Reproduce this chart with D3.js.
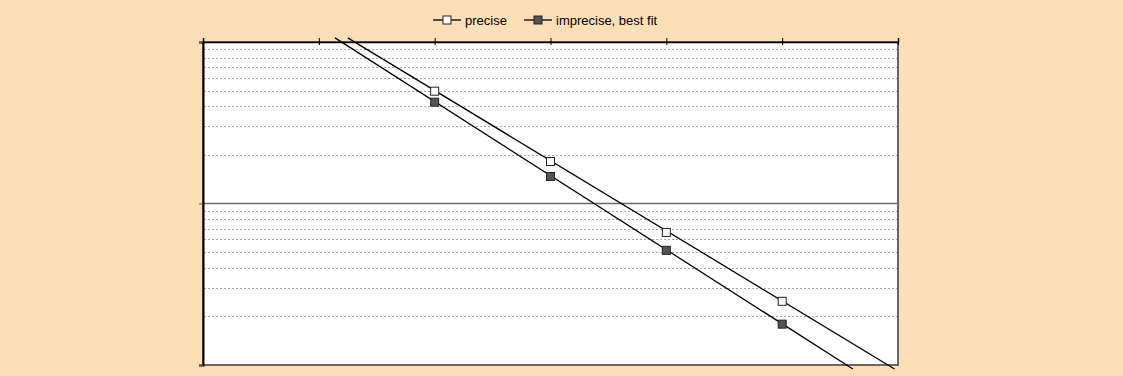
<!DOCTYPE html>
<html>
<head>
<meta charset="utf-8">
<script src="https://cdn.jsdelivr.net/npm/d3@7"></script>
<style>
  body { margin: 0; background: #fcdeb7; }
  svg { display: block; font-family: "Liberation Sans", Arial, sans-serif; }
</style>
</head>
<body>
<div id="chart"></div>
<script>
// values (log y axis, no labels shown)
const xValues = [2, 3, 4, 5];
const precise = [49.6, 18.2, 6.62, 2.48];
const imprecise = [42.4, 14.7, 5.13, 1.79];
// where the drawn lines start and stop
const preciseLine = [[1.25, 106], [5.97, 0.945]];
const impreciseLine = [[1.14, 106], [5.61, 0.945]];
const xTicks = [0, 1, 2, 3, 4, 5, 6];
const yMajor = [1, 10, 100];
const seriesNames = ["precise", "imprecise, best fit"];

const W = 1123, H = 376;
const margin = { top: 42, right: 225, bottom: 11, left: 203 };

const svg = d3.select("#chart").append("svg")
    .attr("width", W)
    .attr("height", H);

svg.append("rect").attr("width", W).attr("height", H).attr("fill", "#fcdeb7");

const x = d3.scaleLinear().domain([0, 6]).range([margin.left, W - margin.right]);
const y = d3.scaleLog().domain([1, 100]).range([H - margin.bottom, margin.top]);

// plot area
svg.append("rect")
    .attr("x", x(0)).attr("y", y(100))
    .attr("width", x(6) - x(0)).attr("height", y(1) - y(100))
    .attr("fill", "#fff")
    .attr("stroke", "#666")
    .attr("stroke-width", 2);

// minor log gridlines
const minor = [];
[1, 10].forEach(d => { for (let k = 2; k <= 9; k++) minor.push(d * k); });
svg.append("g").selectAll("line")
    .data(minor)
    .enter().append("line")
    .attr("x1", x(0) + 1).attr("x2", x(6) - 1)
    .attr("y1", d => Math.round(y(d)) + 0.5)
    .attr("y2", d => Math.round(y(d)) + 0.5)
    .attr("stroke", "#a8a8a8")
    .attr("stroke-dasharray", "2,2");

// major gridline at 10
svg.append("line")
    .attr("x1", x(0)).attr("x2", x(6))
    .attr("y1", y(10)).attr("y2", y(10))
    .attr("stroke", "#6a6a6a")
    .attr("stroke-width", 1.5);

// top axis
const topAxis = svg.append("g")
    .attr("transform", `translate(0,${y(100)})`)
    .call(d3.axisTop(x).tickValues(xTicks).tickSize(4).tickFormat(""));
topAxis.select(".domain").attr("stroke", "#000").attr("stroke-width", 1.5);
topAxis.selectAll(".tick line").attr("y1", 3).attr("stroke", "#000");

// left axis
const leftAxis = svg.append("g")
    .attr("transform", `translate(${x(0)},0)`)
    .call(d3.axisLeft(y).tickValues(yMajor).tickSize(4).tickFormat(""));
leftAxis.select(".domain").attr("stroke", "#000").attr("stroke-width", 2);
leftAxis.selectAll(".tick line").attr("stroke", "#555");

// lines
const line = d3.line().x(d => x(d[0])).y(d => y(d[1]));
[preciseLine, impreciseLine].forEach(l => {
    svg.append("path")
        .attr("d", line(l))
        .attr("fill", "none")
        .attr("stroke", "#000")
        .attr("stroke-width", 1.3);
});

// markers
const fills = ["#fff", "#555"];
[precise, imprecise].forEach((s, i) => {
    svg.append("g").selectAll("rect")
        .data(s)
        .enter().append("rect")
        .attr("x", (d, j) => x(xValues[j]) - 4)
        .attr("y", d => y(d) - 4)
        .attr("width", 8).attr("height", 8)
        .attr("fill", fills[i])
        .attr("stroke", "#222")
        .attr("stroke-width", 1);
});

// legend
const legendX = [433, 524];
const legend = svg.append("g");
seriesNames.forEach((name, i) => {
    const g = legend.append("g").attr("transform", `translate(${legendX[i]},20)`);
    g.append("line").attr("x1", 0).attr("x2", 28).attr("stroke", "#000").attr("stroke-width", 1.3);
    g.append("rect").attr("x", 10).attr("y", -4).attr("width", 8).attr("height", 8)
        .attr("fill", fills[i]).attr("stroke", "#222");
    g.append("text").attr("x", 32).attr("y", 5)
        .attr("font-size", 13).attr("fill", "#000")
        .text(name);
});
</script>
</body>
</html>
